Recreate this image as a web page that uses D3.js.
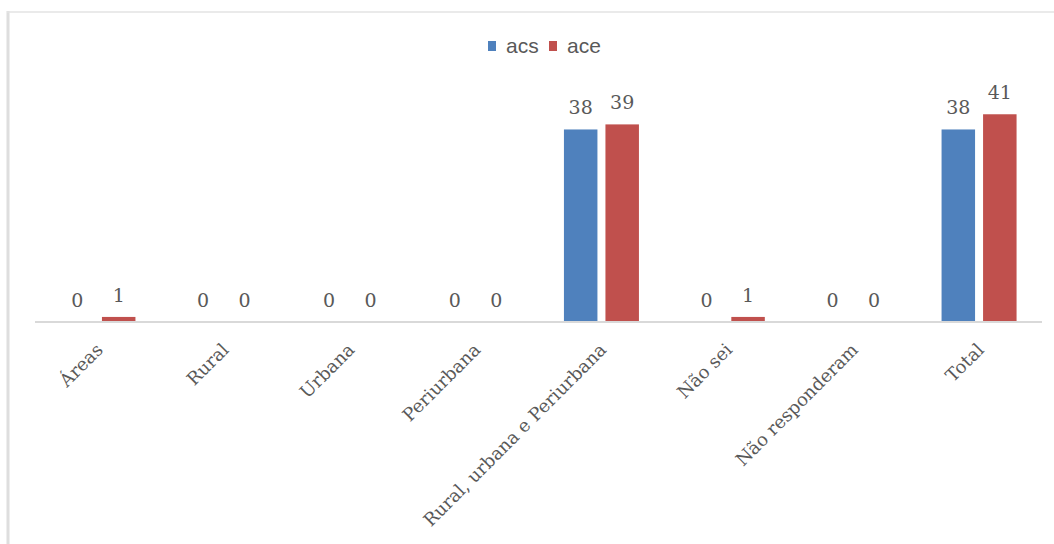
<!DOCTYPE html>
<html><head><meta charset="utf-8">
<script src="https://cdn.jsdelivr.net/npm/d3@7"></script>
<style>body{margin:0;background:#fff}svg{display:block}</style>
</head><body>
<svg id="c" width="1054" height="544"></svg>
<script>
const categories = ["Áreas","Rural","Urbana","Periurbana","Rural, urbana e Periurbana","Não sei","Não responderam","Total"];
const seriesNames = ["acs","ace"];
const acs = [0,0,0,0,38,0,0,38];
const ace = [1,0,0,0,39,1,0,41];
const colors = ["#4F81BD","#C0504D"];

(function(){
const svg = d3.select("#c");
const W = 1054, H = 544;
const left = 35, right = 1042, base = 322, plotTop = 94;
const serif = "'DejaVu Serif',serif";

// frame
svg.append("line").attr("x1",8).attr("x2",8).attr("y1",11).attr("y2",H).attr("stroke","#dedede").attr("stroke-width",3);
svg.append("line").attr("x1",7).attr("x2",W).attr("y1",12).attr("y2",12).attr("stroke","#e3e3e3").attr("stroke-width",1.5);

const x0 = d3.scaleBand().domain(categories).range([left,right]).paddingInner(0).paddingOuter(0);
const x1 = d3.scaleBand().domain(seriesNames).range([x0.bandwidth()/2-37.5, x0.bandwidth()/2+37.5]).paddingInner(0.193).paddingOuter(0);
const y = d3.scaleLinear().domain([0,45]).range([base,plotTop]);

const rows = categories.map((c,i)=>({cat:c, vals:[acs[i],ace[i]]}));
const g = svg.append("g").selectAll("g").data(rows).join("g")
  .attr("transform",d=>`translate(${x0(d.cat)},0)`);
g.selectAll("rect").data(d=>d.vals.map((v,j)=>({v,s:seriesNames[j],j})))
  .join("rect")
  .attr("x",d=>x1(d.s)).attr("width",x1.bandwidth())
  .attr("y",d=>y(d.v)).attr("height",d=>base-y(d.v))
  .attr("fill",d=>colors[d.j]);
g.selectAll("text.v").data(d=>d.vals.map((v,j)=>({v,s:seriesNames[j],j})))
  .join("text").attr("class","v")
  .attr("x",d=>x1(d.s)+x1.bandwidth()/2).attr("y",d=>y(d.v)-15)
  .attr("text-anchor","middle")
  .attr("font-family",serif).attr("font-size",19)
  .attr("fill","#595959").text(d=>d.v);

// axis
const ax = svg.append("g").attr("transform",`translate(0,${base})`)
  .call(d3.axisBottom(x0).tickSize(0).tickPadding(0));
ax.select(".domain").attr("stroke","#d9d9d9").attr("stroke-width",2).attr("d",`M${left},0H${right}`);
ax.selectAll(".tick text")
  .attr("font-family",serif).attr("font-size",18)
  .attr("fill","#595959")
  .attr("text-anchor","end").attr("dy",0).attr("y",0).attr("x",0)
  .attr("transform","translate(6,29) rotate(-45)");

// legend
const lg = svg.append("g").attr("font-family","'Liberation Sans Narrow','Arial Narrow','Liberation Sans',sans-serif").attr("font-size",21).attr("fill","#595959");
const lx = [488,549];
seriesNames.forEach((s,i)=>{
  lg.append("rect").attr("x",lx[i]).attr("y",41).attr("width",8).attr("height",10).attr("fill",colors[i]);
  lg.append("text").attr("x",lx[i]+18).attr("y",53).text(s);
});
})();
</script>
</body></html>
